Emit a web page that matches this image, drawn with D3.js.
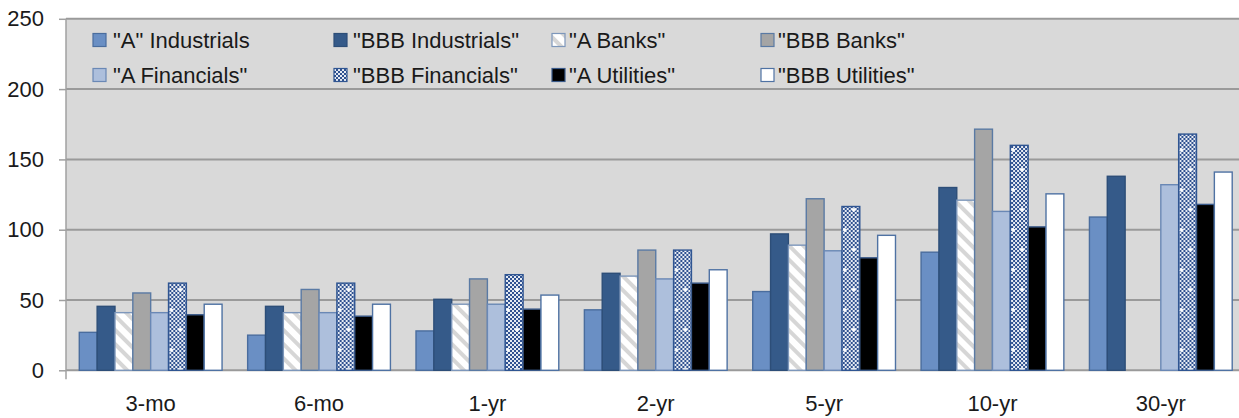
<!DOCTYPE html>
<html><head><meta charset="utf-8">
<script src="https://cdn.jsdelivr.net/npm/d3@7"></script>
<style>
html,body{margin:0;padding:0;background:#fff;}
svg{display:block;font-family:"Liberation Sans",Arial,sans-serif;}
</style></head>
<body>
<svg id="chart" width="1239" height="418"></svg>
<script>
const categories = ["3-mo","6-mo","1-yr","2-yr","5-yr","10-yr","30-yr"];
const seriesNames = ['"A" Industrials','"BBB Industrials"','"A Banks"','"BBB Banks"','"A Financials"','"BBB Financials"','"A Utilities"','"BBB Utilities"'];
const aIndustrials   = [27, 25, 28, 43, 56, 84, 109];
const bbbIndustrials = [45.5, 45.5, 50.5, 69, 97, 130, 138];
const aBanks         = [41, 41, 47, 67, 89, 121, null];
const bbbBanks       = [55, 57.5, 65, 85.5, 122, 171.5, null];
const aFinancials    = [41, 41, 47, 65, 85, 113, 132];
const bbbFinancials  = [62, 62, 68, 85.5, 116.5, 160, 168];
const aUtilities     = [39.5, 38.5, 43.5, 62, 80, 102, 118];
const bbbUtilities   = [47, 47, 53.5, 71.5, 96, 125.5, 141];
const yTicks = [0, 50, 100, 150, 200, 250];

const seriesValues = [aIndustrials,bbbIndustrials,aBanks,bbbBanks,aFinancials,bbbFinancials,aUtilities,bbbUtilities];
const styles = [
  {fill:"#6a8fc4", stroke:"#4a6d9e"},
  {fill:"#355a89", stroke:"#2d4e78"},
  {fill:"url(#stripes)", stroke:"#7d97bb"},
  {fill:"#a5a5a5", stroke:"#5a7aa4"},
  {fill:"#adbfdc", stroke:"#6a88b5"},
  {fill:"url(#checker)", stroke:"#2f5592"},
  {fill:"#000000", stroke:"#3a5a8a"},
  {fill:"#ffffff", stroke:"#4f72a3"}
];

const svg = d3.select("#chart");
const defs = svg.append("defs");
// diagonal stripes
const st = defs.append("pattern").attr("id","stripes").attr("patternUnits","userSpaceOnUse")
  .attr("width",10).attr("height",10).attr("patternTransform","rotate(-45)");
st.append("rect").attr("width",10).attr("height",10).attr("fill","#ffffff");
st.append("rect").attr("width",4).attr("height",10).attr("fill","#d6d6d6");
// checker with white plus marks
const ck = defs.append("pattern").attr("id","checker").attr("patternUnits","userSpaceOnUse")
  .attr("width",16).attr("height",40);
ck.append("rect").attr("width",16).attr("height",40).attr("fill","#e6ebf3");
for (let i=0;i<8;i++) for (let j=0;j<20;j++) {
  if ((i+j)%2===0) ck.append("rect").attr("x",i*2).attr("y",j*2).attr("width",2).attr("height",2).attr("fill","#2f5190");
}
[[5,10],[12,30]].forEach(([cx,cy])=>{
  ck.append("rect").attr("x",cx-2).attr("y",cy-0.8).attr("width",4).attr("height",1.6).attr("fill","#fff");
  ck.append("rect").attr("x",cx-0.8).attr("y",cy-2).attr("width",1.6).attr("height",4).attr("fill","#fff");
});

const plotLeft = 66, plotRight = 1245, plotTop = 18.8, plotBottom = 370.3;
const y = d3.scaleLinear().domain([0,250]).range([plotBottom, plotTop]);
const x0 = d3.scaleBand().domain(categories).range([plotLeft+0.5, plotRight]).paddingInner(0.152).paddingOuter(0.076);
const x1 = d3.scaleBand().domain(seriesNames).range([0, x0.bandwidth()]);

// plot background
svg.append("rect").attr("x",plotLeft).attr("y",plotTop).attr("width",1239-plotLeft).attr("height",plotBottom-plotTop).attr("fill","#d9d9d9");

// gridlines + y axis
const yAxis = d3.axisLeft(y).tickValues(yTicks).tickSize(7).tickPadding(15).tickFormat(d3.format("d"));
const gy = svg.append("g").attr("transform",`translate(${plotLeft},0)`).call(yAxis);
gy.select(".domain").remove();
gy.selectAll(".tick line").attr("stroke","#a0a0a0").attr("stroke-width",1.5);
gy.selectAll(".tick text").attr("font-size","22px").attr("fill","#1a1a1a").attr("font-family","'Liberation Sans',Arial,sans-serif");
svg.append("g").selectAll("line").data(yTicks).join("line")
  .attr("x1",plotLeft).attr("x2",1239).attr("y1",d=>y(d)).attr("y2",d=>y(d))
  .attr("stroke","#9a9a9a").attr("stroke-width",2);
svg.append("line").attr("x1",plotLeft).attr("x2",plotLeft).attr("y1",plotTop).attr("y2",plotBottom+9)
  .attr("stroke","#a0a0a0").attr("stroke-width",1.5);

// bars
const groups = svg.append("g").selectAll("g").data(categories).join("g")
  .attr("transform",d=>`translate(${x0(d)},0)`);
groups.selectAll("rect").data((c,ci)=>seriesNames.map((s,si)=>({s,si,v:seriesValues[si][ci]})).filter(d=>d.v!=null))
  .join("rect")
  .attr("x",d=>x1(d.s)).attr("width",x1.bandwidth())
  .attr("y",d=>y(d.v)).attr("height",d=>y(0)-y(d.v))
  .attr("fill",d=>styles[d.si].fill).attr("stroke",d=>styles[d.si].stroke).attr("stroke-width",1.4);

// x axis labels
const xAxis = d3.axisBottom(x0).tickSize(0).tickPadding(25);
const gx = svg.append("g").attr("transform",`translate(0,${plotBottom})`).call(xAxis);
gx.select(".domain").remove();
gx.selectAll(".tick text").attr("font-size","22px").attr("fill","#1a1a1a").attr("font-family","'Liberation Sans',Arial,sans-serif");

// legend
const legX = [[93,113],[334,353],[552,569],[761,778]];
const legY = [40, 75];
const leg = svg.append("g").selectAll("g").data(seriesNames).join("g")
  .attr("transform",(d,i)=>`translate(${legX[i%4][0]},${legY[Math.floor(i/4)]})`);
leg.append("rect").attr("x",0).attr("y",-6.5).attr("width",13).attr("height",13)
  .attr("fill",(d,i)=>styles[i].fill).attr("stroke",(d,i)=>styles[i].stroke).attr("stroke-width",1.2);
leg.append("text").attr("x",(d,i)=>legX[i%4][1]-legX[i%4][0]).attr("y",0).attr("dy","0.36em")
  .attr("font-size","22px").attr("fill","#1a1a1a").text(d=>d);
</script>
</body></html>
